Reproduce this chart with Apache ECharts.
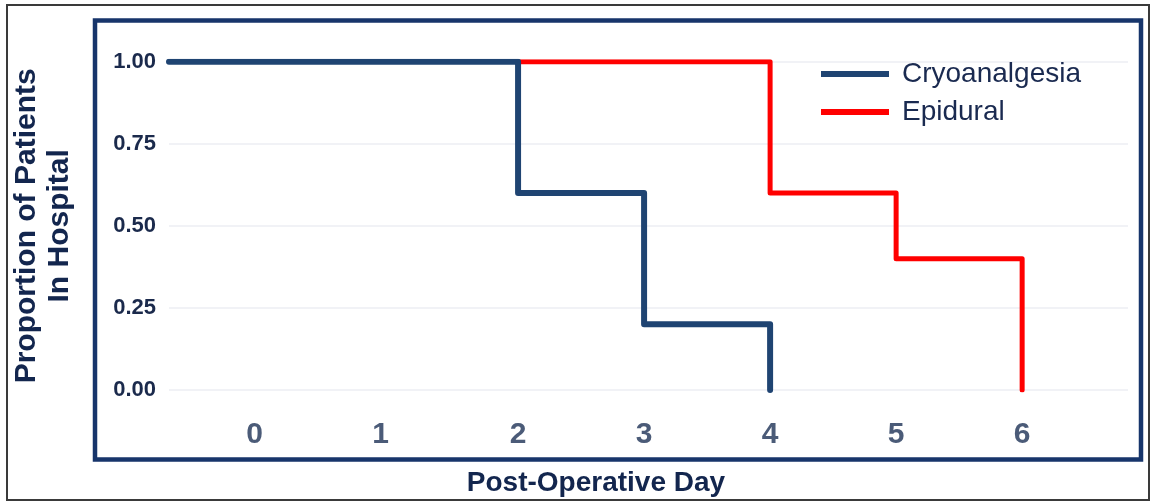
<!DOCTYPE html>
<html><head><meta charset="utf-8">
<script src="https://cdn.jsdelivr.net/npm/echarts@6/dist/echarts.min.js"></script>
<style>html,body{margin:0;padding:0;background:#fff}#c{width:1153px;height:502px}</style>
</head><body><div id="c"></div>
<script>
// Data
const seriesNames = ['Cryoanalgesia', 'Epidural'];
const xMin = -0.77, xMax = 6.84;
const xTicks = [0, 1, 2, 3, 4, 5, 6];
const yTicks = [0, 0.25, 0.5, 0.75, 1];
// Kaplan-Meier steps: [day, proportion]
const cryoDays = [xMin, 2, 3, 4];
const cryoProp = [1.00, 0.60, 0.20, 0.00];
const epiDays = [2, 4, 5, 6];
const epiProp = [1.00, 0.60, 0.40, 0.00];

const FONT = '"Liberation Sans", Arial, sans-serif';
const chart = echarts.init(document.getElementById('c'), null, {renderer: 'canvas'});
const zip = (a, b) => a.map((v, i) => [v, b[i]]);

chart.setOption({
  animation: false,
  backgroundColor: '#fff',
  textStyle: {fontFamily: FONT},
  grid: {left: 169, right: 25, top: 61.7, bottom: 112, containLabel: false},
  title: {
    text: 'Post-Operative Day', left: 591, top: 464, textAlign: 'center',
    textStyle: {fontFamily: FONT, fontSize: 28, fontWeight: 'bold', color: '#13264e'}
  },
  legend: {
    orient: 'vertical', left: 816, top: 55, itemWidth: 68, itemHeight: 6, itemGap: 10,
    icon: 'rect', data: seriesNames,
    textStyle: {fontFamily: FONT, fontSize: 28, lineHeight: 28, color: '#1a2a50', padding: [0, 0, 0, 8]}
  },
  xAxis: {
    type: 'value', min: xMin, max: xMax,
    axisLine: {show: false}, axisTick: {show: false}, splitLine: {show: false},
    axisLabel: {
      margin: 30,
      customValues: xTicks,
      formatter: v => (v < 2 ? '{s|' + v + '}' : '{n|' + v + '}'),
      rich: {
        s: {fontFamily: FONT, fontSize: 30, fontWeight: 'bold', color: '#4b5b78', padding: [0, 23, 0, 0]},
        n: {fontFamily: FONT, fontSize: 30, fontWeight: 'bold', color: '#4b5b78'}
      }
    }
  },
  yAxis: {
    type: 'value', min: 0, max: 1, interval: 0.25,
    name: 'Proportion of Patients\nIn Hospital', nameLocation: 'middle', nameRotate: 90, nameGap: 93,
    nameTextStyle: {fontFamily: FONT, fontSize: 30, fontWeight: 'bold', color: '#13264e', lineHeight: 33},
    axisLine: {show: false}, axisTick: {show: false},
    splitLine: {lineStyle: {color: '#eceef3', width: 1.5}},
    axisLabel: {
      margin: 13, formatter: v => v.toFixed(2),
      fontFamily: FONT, fontSize: 22, fontWeight: 'bold', color: '#1b2a4c'
    }
  },
  graphic: [
    {type: 'rect', shape: {x: 7, y: 5, width: 1142, height: 495}, style: {fill: 'none', stroke: '#3a3a3a', lineWidth: 2}, z: 100},
    {type: 'rect', shape: {x: 95, y: 20.5, width: 1046, height: 439}, style: {fill: 'none', stroke: '#17356b', lineWidth: 4.5}, z: 100}
  ],
  series: [
    {name: 'Epidural', type: 'line', step: 'end', data: zip(epiDays, epiProp), showSymbol: false,
     color: '#ff0000', lineStyle: {width: 5, color: '#ff0000', cap: 'round', join: 'round'}, z: 2},
    {name: 'Cryoanalgesia', type: 'line', step: 'end', data: zip(cryoDays, cryoProp), showSymbol: false,
     color: '#1f4472', lineStyle: {width: 6, color: '#1f4472', cap: 'round', join: 'round'}, z: 3}
  ]
});
</script></body></html>
